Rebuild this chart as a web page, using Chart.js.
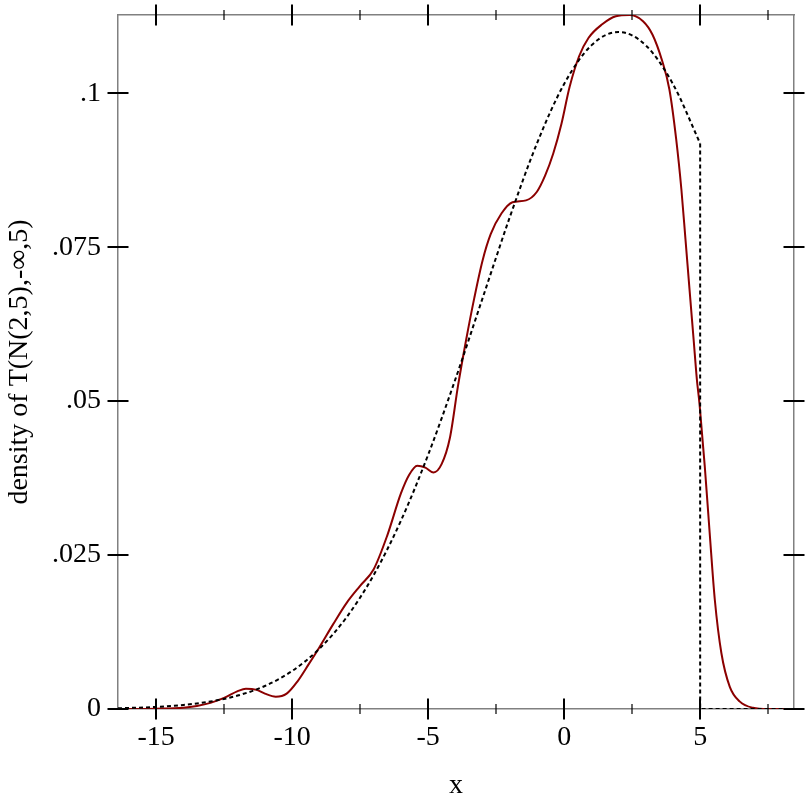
<!DOCTYPE html>
<html>
<head>
<meta charset="utf-8">
<script src="https://cdn.jsdelivr.net/npm/chart.js@4"></script>
<style>
    html, body { margin: 0; padding: 0; background: #fff; }
    #wrap { width: 812px; height: 812px; }
</style>
</head>
<body>
<div id="wrap"><canvas id="densityChart" width="812" height="812"></canvas></div>
<script>
// sample density (dark red)
const sampleX = [-16.4, -15, -14, -13.5, -13, -12.5, -12, -11.7, -11.3, -11, -10.6, -10.2, -9.8, -9.4, -9,
    -8.5, -8, -7.5, -7, -6.5, -6, -5.7, -5.4, -5.1, -4.8, -4.5, -4.2, -3.9, -3.6, -3.3, -3,
    -2.7, -2.3, -1.9, -1.4, -1, -0.7, -0.4, -0.1, 0.2, 0.55, 0.9, 1.4, 1.9, 2.4, 2.9, 3.25,
    3.6, 3.87, 4.12, 4.31, 4.46, 4.61, 4.76, 4.88, 4.98, 5.17, 5.35, 5.54, 5.78, 6.09, 6.46,
    6.94, 7.5, 8.45];
const sampleY = [0, 0.00005, 0.0002, 0.0005, 0.001, 0.0018, 0.0029, 0.0033, 0.0031, 0.0025, 0.002, 0.0025, 0.0045, 0.0072, 0.01,
    0.0137, 0.0172, 0.02, 0.0227, 0.0282, 0.035, 0.038, 0.0395, 0.0392, 0.0384, 0.0398, 0.044, 0.0525, 0.06, 0.0668, 0.0728,
    0.0771, 0.0805, 0.0823, 0.0826, 0.084, 0.0866, 0.0902, 0.095, 0.101, 0.106, 0.109, 0.1112, 0.1125, 0.1127, 0.1117, 0.1095,
    0.1053, 0.1006, 0.0925, 0.0844, 0.0763, 0.0681, 0.06, 0.0535, 0.0494, 0.0394, 0.0286, 0.0177, 0.0091, 0.0036, 0.0012,
    0.0002, 0, 0];

// truncated normal T(N(2,5),-inf,5) (dashed)
const exactX = [-16.4, -16, -15, -14, -13, -12, -11, -10, -9, -8, -7, -6, -5, -4, -3, -2, -1, 0, 1, 2, 3, 4, 5];
const exactY = [0.00012, 0.00017, 0.00034, 0.00066, 0.00122, 0.00218, 0.00374, 0.00617, 0.00978, 0.01488, 0.02176,
    0.03057, 0.04127, 0.05352, 0.06669, 0.07984, 0.09184, 0.1015, 0.10777, 0.10995, 0.10777, 0.1015, 0.09184];
const cutX = [5, 5, 8.45];
const cutY = [0.09184, 0, 0];

const xMin = -16.4, xMax = 8.45;
const yMin = 0, yMax = 0.1127;
const xStep = 2.5, yStep = 0.025;

const xLabel = "x";
const yLabel = "density of T(N(2,5),-\u221E,5)";

function toPoints(xs, ys) {
    return xs.map((x, i) => ({ x: x, y: ys[i] }));
}

const serif = "'Liberation Serif', 'Times New Roman', serif";
const fontSize = 28;

// tick marks that cross the frame on all four sides
const crossTicks = {
    id: "crossTicks",
    afterDraw(chart) {
        const ctx = chart.ctx;
        const a = chart.chartArea;
        ctx.save();
        ctx.strokeStyle = "#000";

        ["x", "x2"].forEach(id => {
            const s = chart.scales[id];
            const yy = id === "x" ? a.bottom : a.top;
            s.ticks.forEach(t => {
                const major = Math.abs(t.value % 5) < 1e-9;
                const h = major ? 10.5 : 5;
                const px = Math.round(s.getPixelForValue(t.value));
                ctx.lineWidth = major ? 2 : 1.2;
                ctx.beginPath();
                ctx.moveTo(px, yy - h);
                ctx.lineTo(px, yy + h);
                ctx.stroke();
            });
        });

        ["y", "y2"].forEach(id => {
            const s = chart.scales[id];
            const xx = id === "y" ? a.left : a.right;
            s.ticks.forEach(t => {
                const py = Math.round(s.getPixelForValue(t.value));
                ctx.lineWidth = 2;
                ctx.beginPath();
                ctx.moveTo(xx - 10.5, py);
                ctx.lineTo(xx + 10.5, py);
                ctx.stroke();
            });
        });

        ctx.restore();
    }
};

const frame = { display: true, color: "#808080", width: 1.5 };

function fixSize(w, h) {
    return s => {
        if (w !== null) s.width = w;
        if (h !== null) s.height = h;
        s.paddingTop = 0;
        s.paddingBottom = 0;
        s.paddingLeft = 0;
        s.paddingRight = 0;
    };
}

new Chart(document.getElementById("densityChart"), {
    type: "line",
    data: {
        datasets: [
            {
                data: toPoints(exactX, exactY),
                borderColor: "#000",
                borderWidth: 2,
                borderDash: [4, 3],
                pointRadius: 0,
                cubicInterpolationMode: "monotone",
                fill: false
            },
            {
                data: toPoints(cutX, cutY),
                borderColor: "#000",
                borderWidth: 2,
                borderDash: [4, 3],
                pointRadius: 0,
                tension: 0,
                fill: false
            },
            {
                data: toPoints(sampleX, sampleY),
                borderColor: "#8b0000",
                borderWidth: 2,
                pointRadius: 0,
                cubicInterpolationMode: "monotone",
                fill: false
            }
        ]
    },
    options: {
        responsive: false,
        animation: false,
        events: [],
        layout: { padding: 0 },
        plugins: {
            legend: { display: false },
            tooltip: { enabled: false }
        },
        scales: {
            x: {
                type: "linear",
                position: "bottom",
                min: xMin,
                max: xMax,
                afterFit: fixSize(null, 103),
                grid: { display: false, drawTicks: false },
                border: frame,
                ticks: {
                    stepSize: xStep,
                    includeBounds: false,
                    autoSkip: false,
                    maxRotation: 0,
                    padding: 12,
                    color: "#000",
                    font: { family: serif, size: fontSize },
                    callback: v => (Math.abs(v % 5) < 1e-9 ? String(v) : "")
                },
                title: {
                    display: true,
                    text: xLabel,
                    color: "#000",
                    font: { family: serif, size: fontSize },
                    padding: { top: 0, bottom: 10 }
                }
            },
            x2: {
                type: "linear",
                position: "top",
                min: xMin,
                max: xMax,
                afterFit: fixSize(null, 15),
                grid: { display: false, drawTicks: false },
                border: frame,
                ticks: { stepSize: xStep, includeBounds: false, display: false }
            },
            y: {
                type: "linear",
                position: "left",
                min: yMin,
                max: yMax,
                afterFit: fixSize(118, null),
                grid: { display: false, drawTicks: false },
                border: frame,
                ticks: {
                    stepSize: yStep,
                    includeBounds: false,
                    padding: 17,
                    color: "#000",
                    font: { family: serif, size: fontSize },
                    callback: v => {
                        let r = Math.round(v * 1000) / 1000;
                        return r === 0 ? "0" : String(r).replace(/^0/, "");
                    }
                },
                title: {
                    display: true,
                    text: yLabel,
                    color: "#000",
                    font: { family: serif, size: fontSize },
                    padding: { top: 3, bottom: 0 }
                }
            },
            y2: {
                type: "linear",
                position: "right",
                min: yMin,
                max: yMax,
                afterFit: fixSize(18, null),
                grid: { display: false, drawTicks: false },
                border: frame,
                ticks: { stepSize: yStep, includeBounds: false, display: false }
            }
        }
    },
    plugins: [crossTicks]
});
</script>
</body>
</html>
